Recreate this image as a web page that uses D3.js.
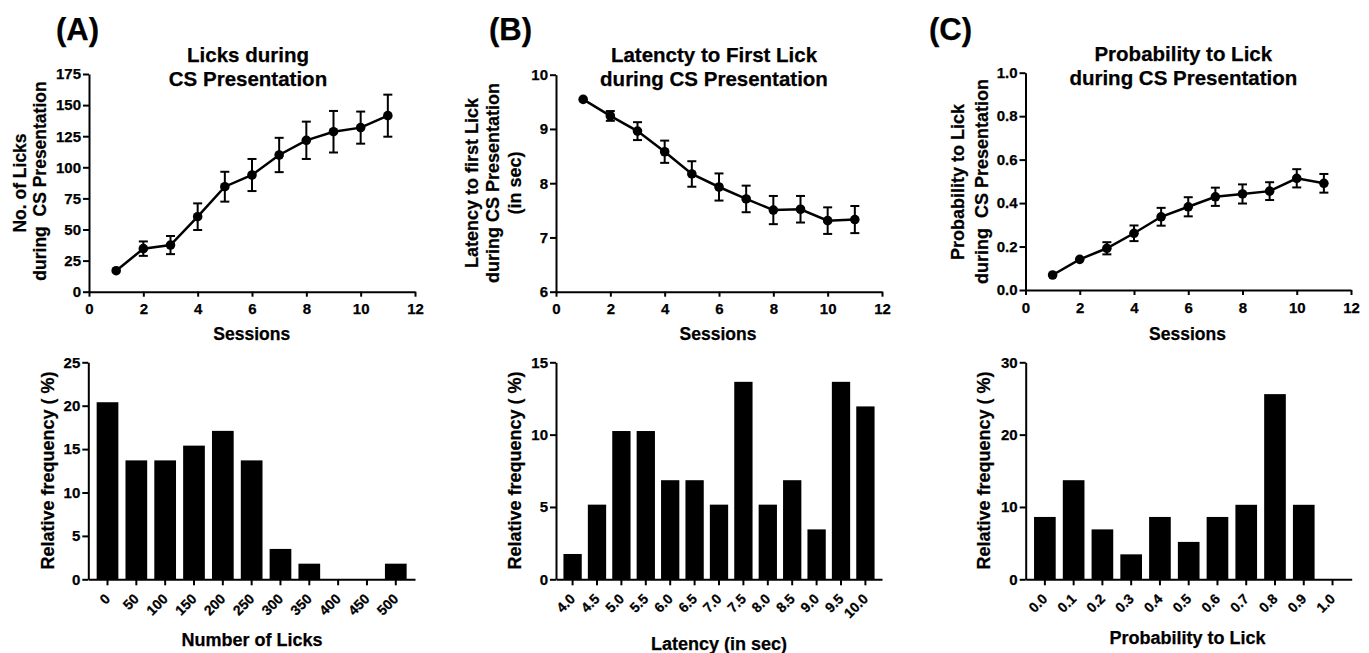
<!DOCTYPE html>
<html><head><meta charset="utf-8">
<script src="https://cdn.jsdelivr.net/npm/d3@7"></script>
<style>
html,body{margin:0;padding:0;background:#fff;}
svg text{font-family:"Liberation Sans",Arial,Helvetica,sans-serif;font-weight:bold;fill:#000;stroke:#000;stroke-width:0.25px;}
</style></head><body>
<svg id="chart" width="1369" height="653"></svg>
<script>
// ---------- DATA ----------
const sessions = [1,2,3,4,5,6,7,8,9,10,11];
const sessionTicks = [0,2,4,6,8,10,12];

const licksMean = [16.9,34.6,37.5,60.3,84.4,93.8,109.9,121.7,128.6,131.9,141.5];
const licksErr  = [0,5.8,7.3,10.7,12,12.9,13.8,15,16.7,12.9,16.9];
const licksTicks = [0,25,50,75,100,125,150,175];

const latencyMean = [9.545,9.24,8.96,8.58,8.17,7.93,7.71,7.505,7.52,7.31,7.33];
const latencyErr  = [0,0.09,0.165,0.205,0.235,0.25,0.245,0.26,0.245,0.245,0.25];
const latencyTicks = [6,7,8,9,10];

const probMean = [0.069,0.141,0.192,0.261,0.337,0.383,0.429,0.442,0.455,0.514,0.491];
const probErr  = [0,0,0.028,0.036,0.041,0.044,0.042,0.044,0.041,0.042,0.043];
const probTicks = [0,0.2,0.4,0.6,0.8,1.0];

const licksBins = ["0","50","100","150","200","250","300","350","400","450","500"];
const licksFreq = [20.4,13.7,13.7,15.4,17.1,13.7,3.5,1.8,0,0,1.8];
const licksFreqTicks = [0,5,10,15,20,25];

const latencyBins = ["4.0","4.5","5.0","5.5","6.0","6.5","7.0","7.5","8.0","8.5","9.0","9.5","10.0"];
const latencyFreq = [1.75,5.16,10.25,10.25,6.85,6.85,5.16,13.65,5.16,6.85,3.45,13.65,11.95];
const latencyFreqTicks = [0,5,10,15];

const probBins = ["0.0","0.1","0.2","0.3","0.4","0.5","0.6","0.7","0.8","0.9","1.0"];
const probFreq = [8.62,13.7,6.9,3.45,8.62,5.17,8.62,10.3,25.6,10.3,0];
const probFreqTicks = [0,10,20,30];

// ---------- DRAW ----------
const svg = d3.select("#chart");

function styleAxis(g, fs){
  g.select(".domain").attr("stroke","#000").attr("stroke-width",2);
  g.selectAll(".tick line").attr("stroke","#000").attr("stroke-width",2);
  g.selectAll(".tick text").attr("font-size",fs).attr("fill","#000")
   .attr("font-family",'"Liberation Sans",Arial,sans-serif').attr("font-weight","bold");
}

function addText(x,y,str,fs,anchor,rot){
  const t = svg.append("text").text(str).attr("font-size",fs).attr("text-anchor",anchor||"middle");
  if(rot) t.attr("transform",`translate(${x},${y}) rotate(${rot})`);
  else t.attr("x",x).attr("y",y);
  return t;
}

function linePanel(c){
  const x = d3.scaleLinear([0,12],[c.x0,c.x1]);
  const y = d3.scaleLinear(c.yDomain,[c.yBot,c.yTop]);
  const gx = svg.append("g").attr("transform",`translate(0,${c.yBot})`)
    .call(d3.axisBottom(x).tickValues(sessionTicks).tickSize(5).tickPadding(7).tickSizeOuter(0));
  styleAxis(gx,15);
  const gy = svg.append("g").attr("transform",`translate(${c.x0},0)`)
    .call(d3.axisLeft(y).tickValues(c.yTicks).tickSize(6).tickPadding(2).tickSizeOuter(0).tickFormat(c.fmt));
  styleAxis(gy,15);
  const data = sessions.map((s,i)=>({s, m:c.means[i], e:c.errs[i]}));
  svg.append("path").datum(data)
    .attr("d", d3.line().x(d=>x(d.s)).y(d=>y(d.m)))
    .attr("fill","none").attr("stroke","#000").attr("stroke-width",2.5);
  const eb = svg.append("g").attr("stroke","#000").attr("stroke-width",2);
  data.filter(d=>d.e>0).forEach(d=>{
    const cx = x(d.s), yh = y(d.m+d.e), yl = y(d.m-d.e);
    eb.append("line").attr("x1",cx).attr("x2",cx).attr("y1",yh).attr("y2",yl);
    eb.append("line").attr("x1",cx-4.5).attr("x2",cx+4.5).attr("y1",yh).attr("y2",yh);
    eb.append("line").attr("x1",cx-4.5).attr("x2",cx+4.5).attr("y1",yl).attr("y2",yl);
  });
  svg.append("g").selectAll("circle").data(data).join("circle")
    .attr("cx",d=>x(d.s)).attr("cy",d=>y(d.m)).attr("r",4.8).attr("fill","#000");
}

function barPanel(c){
  const x = d3.scaleBand(c.cats,[c.x0,c.x1]).paddingInner(c.pi).paddingOuter(c.po);
  const y = d3.scaleLinear([0,c.yMax],[c.yBot,c.yTop]);
  svg.append("g").selectAll("rect").data(c.cats.map((k,i)=>({k,v:c.vals[i]}))).join("rect")
    .attr("x",d=>x(d.k)).attr("width",x.bandwidth())
    .attr("y",d=>y(d.v)).attr("height",d=>c.yBot-y(d.v)).attr("fill","#000");
  const gx = svg.append("g").attr("transform",`translate(0,${c.yBot})`)
    .call(d3.axisBottom(x).tickSize(6).tickSizeOuter(0));
  styleAxis(gx,14);
  gx.selectAll(".tick text").attr("y",0).attr("dy",0).attr("text-anchor","end")
    .attr("transform","translate(3.5,20.5) rotate(-45)");
  const gy = svg.append("g").attr("transform",`translate(${c.x0},0)`)
    .call(d3.axisLeft(y).tickValues(c.yTicks).tickSize(6).tickPadding(2).tickSizeOuter(0));
  styleAxis(gy,15);
}

// Top row
linePanel({x0:89,x1:415,yTop:74,yBot:291.7,yDomain:[0,175],yTicks:licksTicks,fmt:d3.format("d"),means:licksMean,errs:licksErr});
linePanel({x0:556,x1:882,yTop:74.7,yBot:291.7,yDomain:[6,10],yTicks:latencyTicks,fmt:d3.format("d"),means:latencyMean,errs:latencyErr});
linePanel({x0:1025.5,x1:1351,yTop:72.7,yBot:290,yDomain:[0,1],yTicks:probTicks,fmt:d3.format(".1f"),means:probMean,errs:probErr});

// Bottom row
barPanel({cats:licksBins,vals:licksFreq,x0:88.3,x1:415,yTop:362.3,yBot:579.3,yMax:25,yTicks:licksFreqTicks,pi:0.247,po:0.29});
barPanel({cats:latencyBins,vals:latencyFreq,x0:556,x1:882,yTop:362.3,yBot:579.3,yMax:15,yTicks:latencyFreqTicks,pi:0.25,po:0.305});
barPanel({cats:probBins,vals:probFreq,x0:1025.7,x1:1351.7,yTop:362.3,yBot:579.3,yMax:30,yTicks:probFreqTicks,pi:0.247,po:0.29});

// Panel letters
addText(56,40,"(A)",31,"start");
addText(489,40,"(B)",31,"start");
addText(929,40,"(C)",31,"start");

// Titles
addText(248,62.3,"Licks during",20.5);
addText(248,86,"CS Presentation",20.5);
addText(714,62.3,"Latencty to First Lick",20.5);
addText(714,86,"during CS Presentation",20.5);
addText(1183.3,61,"Probability to Lick",20.5);
addText(1183.3,85,"during CS Presentation",20.5);

// Top y labels
addText(25.5,183,"No. of Licks",17.5,"middle",-90);
addText(46,181,"during  CS Presentation",17.5,"middle",-90).style("white-space","pre");
addText(477.5,183,"Latency to first Lick",18,"middle",-90);
addText(499,183,"during CS Presentation",18,"middle",-90);
addText(521,183,"(in sec)",18,"middle",-90);
addText(964,182,"Probability to Lick",18,"middle",-90);
addText(987.5,181.5,"during  CS Presentation",18,"middle",-90).style("white-space","pre");

// Sessions labels
addText(251.7,340,"Sessions",17.5);
addText(718,340,"Sessions",17.5);
addText(1187.5,340,"Sessions",17.5);

// Bottom y labels
addText(54.3,470.5,"Relative frequency ( %)",18,"middle",-90);
addText(521,470.5,"Relative frequency ( %)",18,"middle",-90);
addText(990,470.5,"Relative frequency ( %)",18,"middle",-90);

// Bottom x labels
addText(252,645.5,"Number of Licks",18);
addText(719,650,"Latency (in sec)",18);
addText(1187.6,644,"Probability to Lick",18);
</script>
</body></html>
